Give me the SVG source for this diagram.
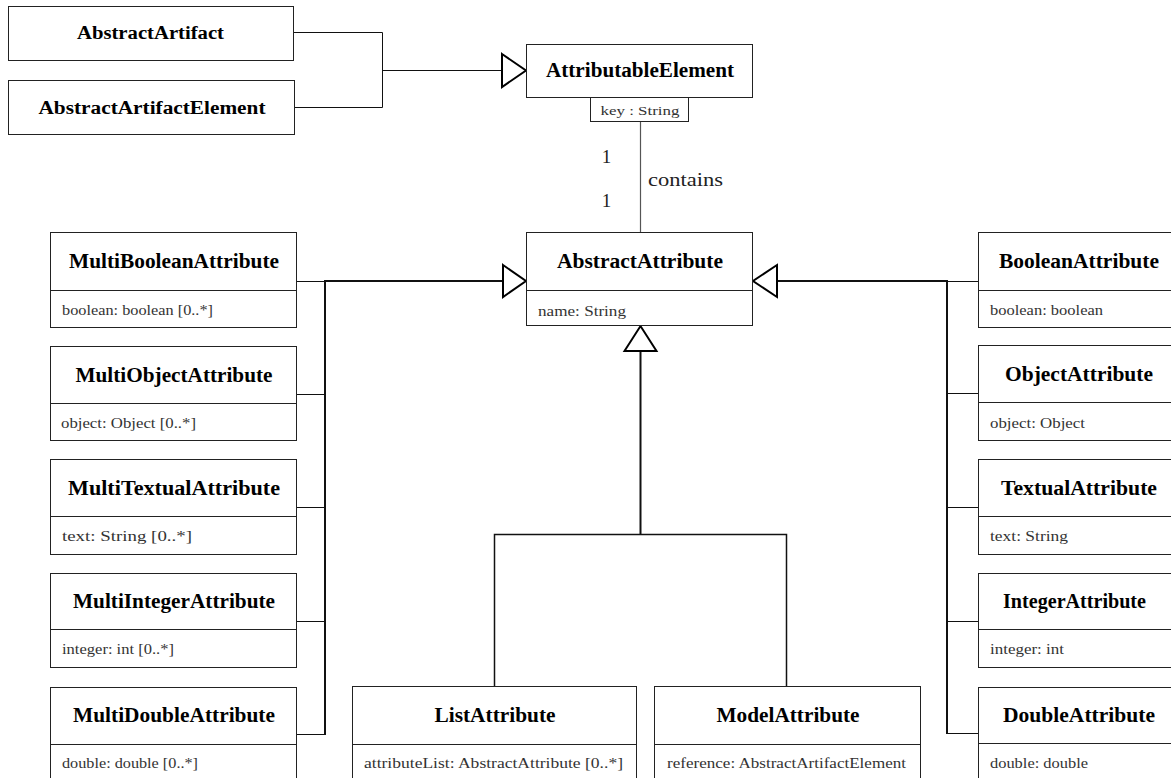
<svg xmlns="http://www.w3.org/2000/svg" width="1171" height="778" viewBox="0 0 1171 778">
  <style>
    .box { fill: #ffffff; stroke: #222222; stroke-width: 1; }
    .div { stroke: #222222; stroke-width: 1; }
    .title { font-family: "Liberation Serif", "Times New Roman", serif; font-weight: bold; font-size: 20px; fill: #000000; }
    .small-title { font-size: 18px; }
    .attr { font-family: "Liberation Serif", "Times New Roman", serif; font-size: 15px; fill: #333333; }
    .label { font-family: "Liberation Serif", "Times New Roman", serif; font-size: 19px; fill: #222222; }
    .thin { fill: none; stroke: #111111; stroke-width: 1; }
    .thick { fill: none; stroke: #111111; stroke-width: 2; }
    .tri { fill: #ffffff; stroke: #000000; stroke-width: 2; stroke-linejoin: miter; }
  </style>

  <!-- connectors -->
  <g id="connectors">
    <!-- AbstractArtifact / AbstractArtifactElement -> AttributableElement -->
    <path class="thin" d="M293 32.5 H382.5 V107.5 H294"/>
    <path class="thin" d="M382.5 70.5 H502"/>
    <polygon class="tri" points="502,54 526,70.5 502,87"/>

    <!-- contains association -->
    <path d="M640.5 122 V232" fill="none" stroke="#555555" stroke-width="1.2"/>

    <!-- left generalisation bus -->
    <path class="thin" d="M297 281.5 H325 M297 394.5 H325 M297 507.5 H325 M297 621.5 H325 M297 734.5 H325"/>
    <path class="thick" d="M325 281 V735 M324 281 H503"/>
    <polygon class="tri" points="503,265 526,281 503,297"/>

    <!-- right generalisation bus -->
    <path class="thin" d="M947 281.5 H978 M947 393.5 H978 M947 507.5 H978 M947 621.5 H978 M947 733.5 H978"/>
    <path class="thick" d="M947 280 V734 M948 281 H777"/>
    <polygon class="tri" points="777,265 753,281 777,297"/>

    <!-- bottom generalisation tree -->
    <path class="thick" d="M640.5 351 V534.5"/>
    <path d="M494.5 686 V534.5 H786.5 V686" fill="none" stroke="#111111" stroke-width="1.5"/>
    <polygon class="tri" points="624.5,351 640.5,326 656.5,351"/>
  </g>

  <!-- top nodes -->
  <g id="AbstractArtifact">
    <rect class="box" x="8.5" y="6.5" width="285" height="54"/>
    <text class="title small-title" x="150.5" y="39" text-anchor="middle" textLength="147" lengthAdjust="spacingAndGlyphs">AbstractArtifact</text>
  </g>
  <g id="AbstractArtifactElement">
    <rect class="box" x="8.5" y="80.5" width="286" height="54"/>
    <text class="title small-title" x="152" y="114" text-anchor="middle" textLength="227" lengthAdjust="spacingAndGlyphs">AbstractArtifactElement</text>
  </g>
  <g id="AttributableElement">
    <rect class="box" x="526.5" y="44.5" width="226" height="53"/>
    <text class="title" x="640" y="77" text-anchor="middle" textLength="188" lengthAdjust="spacingAndGlyphs">AttributableElement</text>
    <rect class="box" x="590.5" y="97.5" width="98" height="24"/>
    <text class="attr" x="640" y="115" text-anchor="middle" textLength="79" lengthAdjust="spacingAndGlyphs" style="font-size:13px">key : String</text>
  </g>

  <!-- association labels -->
  <g id="contains-labels">
    <text class="label" x="606.5" y="162.5" text-anchor="middle">1</text>
    <text class="label" x="606.5" y="207" text-anchor="middle">1</text>
    <text class="label" x="648" y="186" textLength="75" lengthAdjust="spacingAndGlyphs">contains</text>
  </g>

  <!-- central abstract class -->
  <g id="AbstractAttribute">
    <rect class="box" x="526.5" y="232.5" width="226" height="93"/>
    <line class="div" x1="526.5" y1="290.5" x2="752.5" y2="290.5"/>
    <text class="title" x="640" y="268" text-anchor="middle" textLength="166" lengthAdjust="spacingAndGlyphs">AbstractAttribute</text>
    <text class="attr" x="538" y="316" textLength="88" lengthAdjust="spacingAndGlyphs">name: String</text>
  </g>

  <!-- multi-valued attributes (left column) -->
  <g id="MultiBooleanAttribute">
    <rect class="box" x="50.5" y="232.5" width="246" height="95"/>
    <line class="div" x1="50.5" y1="290.5" x2="296.5" y2="290.5"/>
    <text class="title" x="174" y="268" text-anchor="middle" textLength="210" lengthAdjust="spacingAndGlyphs">MultiBooleanAttribute</text>
    <text class="attr" x="62" y="315" textLength="151" lengthAdjust="spacingAndGlyphs">boolean: boolean [0..*]</text>
  </g>
  <g id="MultiObjectAttribute">
    <rect class="box" x="50.5" y="346.5" width="246" height="94"/>
    <line class="div" x1="50.5" y1="403.5" x2="296.5" y2="403.5"/>
    <text class="title" x="174" y="382" text-anchor="middle" textLength="197" lengthAdjust="spacingAndGlyphs">MultiObjectAttribute</text>
    <text class="attr" x="61" y="428" textLength="135" lengthAdjust="spacingAndGlyphs">object: Object [0..*]</text>
  </g>
  <g id="MultiTextualAttribute">
    <rect class="box" x="50.5" y="459.5" width="246" height="95"/>
    <line class="div" x1="50.5" y1="516.5" x2="296.5" y2="516.5"/>
    <text class="title" x="174" y="495" text-anchor="middle" textLength="212" lengthAdjust="spacingAndGlyphs">MultiTextualAttribute</text>
    <text class="attr" x="62" y="541" textLength="130" lengthAdjust="spacingAndGlyphs">text: String [0..*]</text>
  </g>
  <g id="MultiIntegerAttribute">
    <rect class="box" x="50.5" y="573.5" width="246" height="94"/>
    <line class="div" x1="50.5" y1="629.5" x2="296.5" y2="629.5"/>
    <text class="title" x="174" y="608" text-anchor="middle" textLength="202" lengthAdjust="spacingAndGlyphs">MultiIntegerAttribute</text>
    <text class="attr" x="62" y="654" textLength="112" lengthAdjust="spacingAndGlyphs">integer: int [0..*]</text>
  </g>
  <g id="MultiDoubleAttribute">
    <rect class="box" x="50.5" y="687.5" width="246" height="100"/>
    <line class="div" x1="50.5" y1="744.5" x2="296.5" y2="744.5"/>
    <text class="title" x="174" y="722" text-anchor="middle" textLength="202" lengthAdjust="spacingAndGlyphs">MultiDoubleAttribute</text>
    <text class="attr" x="62" y="768" textLength="136" lengthAdjust="spacingAndGlyphs">double: double [0..*]</text>
  </g>

  <!-- composite attributes (bottom) -->
  <g id="ListAttribute">
    <rect class="box" x="352.5" y="686.5" width="284" height="100"/>
    <line class="div" x1="352.5" y1="744.5" x2="636.5" y2="744.5"/>
    <text class="title" x="495" y="722" text-anchor="middle" textLength="121" lengthAdjust="spacingAndGlyphs">ListAttribute</text>
    <text class="attr" x="364" y="768" textLength="259" lengthAdjust="spacingAndGlyphs">attributeList: AbstractAttribute [0..*]</text>
  </g>
  <g id="ModelAttribute">
    <rect class="box" x="654.5" y="686.5" width="266" height="100"/>
    <line class="div" x1="654.5" y1="744.5" x2="920.5" y2="744.5"/>
    <text class="title" x="788" y="722" text-anchor="middle" textLength="143" lengthAdjust="spacingAndGlyphs">ModelAttribute</text>
    <text class="attr" x="667" y="768" textLength="239" lengthAdjust="spacingAndGlyphs">reference: AbstractArtifactElement</text>
  </g>

  <!-- single-valued attributes (right column) -->
  <g id="BooleanAttribute">
    <rect class="box" x="978.5" y="232.5" width="220" height="95"/>
    <line class="div" x1="978.5" y1="290.5" x2="1198.5" y2="290.5"/>
    <text class="title" x="999" y="268" textLength="160" lengthAdjust="spacingAndGlyphs">BooleanAttribute</text>
    <text class="attr" x="990" y="315" textLength="113" lengthAdjust="spacingAndGlyphs">boolean: boolean</text>
  </g>
  <g id="ObjectAttribute">
    <rect class="box" x="978.5" y="345.5" width="220" height="95"/>
    <line class="div" x1="978.5" y1="402.5" x2="1198.5" y2="402.5"/>
    <text class="title" x="1005" y="381" textLength="148" lengthAdjust="spacingAndGlyphs">ObjectAttribute</text>
    <text class="attr" x="990" y="428" textLength="95" lengthAdjust="spacingAndGlyphs">object: Object</text>
  </g>
  <g id="TextualAttribute">
    <rect class="box" x="978.5" y="459.5" width="220" height="95"/>
    <line class="div" x1="978.5" y1="516.5" x2="1198.5" y2="516.5"/>
    <text class="title" x="1001" y="495" textLength="156" lengthAdjust="spacingAndGlyphs">TextualAttribute</text>
    <text class="attr" x="990" y="541" textLength="78" lengthAdjust="spacingAndGlyphs">text: String</text>
  </g>
  <g id="IntegerAttribute">
    <rect class="box" x="978.5" y="573.5" width="220" height="94"/>
    <line class="div" x1="978.5" y1="629.5" x2="1198.5" y2="629.5"/>
    <text class="title" x="1003" y="608" textLength="143" lengthAdjust="spacingAndGlyphs">IntegerAttribute</text>
    <text class="attr" x="990" y="654" textLength="74" lengthAdjust="spacingAndGlyphs">integer: int</text>
  </g>
  <g id="DoubleAttribute">
    <rect class="box" x="978.5" y="687.5" width="220" height="100"/>
    <line class="div" x1="978.5" y1="743.5" x2="1198.5" y2="743.5"/>
    <text class="title" x="1003" y="722" textLength="152" lengthAdjust="spacingAndGlyphs">DoubleAttribute</text>
    <text class="attr" x="990" y="768" textLength="98" lengthAdjust="spacingAndGlyphs">double: double</text>
  </g>
</svg>
